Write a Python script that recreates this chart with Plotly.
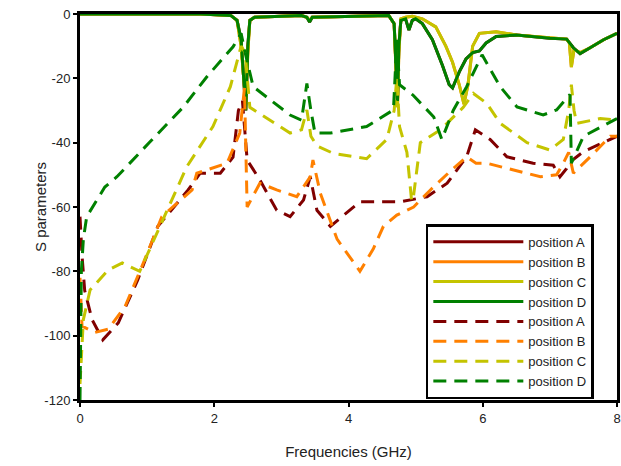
import plotly.graph_objects as go

# ---------------- data ----------------
# Solid curves
solid_D_f = [0, 1.8, 2.25, 2.34, 2.4, 2.44, 2.47, 2.5, 2.53, 2.6, 3.3, 3.38, 3.42, 3.46, 4.6, 4.68, 4.71, 4.73, 4.75, 4.78, 4.85, 4.9, 4.95, 5.0, 5.1, 5.25, 5.4, 5.5, 5.55, 5.65, 5.75, 5.85, 5.95, 6.05, 6.2, 6.5, 7.0, 7.25, 7.35, 7.45, 7.6, 7.8, 8.0]
solid_D_s = [0, 0, -0.5, -2, -8, -20, -30, -10, -2, -1, -0.5, -1, -2.5, -1, -0.5, -3, -15, -27, -10, -2, -1.5, -5, -2, -1.5, -3, -8, -16, -22, -23, -18, -14, -12, -11.5, -9, -7, -6.5, -7.5, -7.8, -10.5, -12.3, -10.5, -8, -6]

solid_C_f = [0, 1.8, 2.25, 2.34, 2.4, 2.44, 2.47, 2.5, 2.53, 2.6, 3.3, 3.38, 3.42, 3.46, 4.6, 4.68, 4.71, 4.73, 4.75, 4.78, 4.85, 4.95, 5.1, 5.3, 5.45, 5.55, 5.65, 5.72, 5.78, 5.85, 5.95, 6.2, 6.5, 7.0, 7.25, 7.29, 7.32, 7.36, 7.45, 7.6, 7.8, 8.0]
solid_C_s = [0, 0, -0.5, -2, -10, -22, -28, -12, -2, -1, -0.5, -1, -2, -1, -0.5, -3, -18, -29, -12, -1.5, -1, -0.7, -1.5, -4, -10, -15, -22, -28, -22, -10, -6, -5.5, -6.5, -7.5, -7.8, -9, -16.5, -11, -12, -10.5, -8, -6]

solid_B_f = solid_C_f
solid_B_s = solid_C_s
solid_A_f = solid_D_f
solid_A_s = solid_D_s

# Dashed curves
dash_A_f = [0, 0.03, 0.07, 0.18, 0.34, 0.57, 0.86, 1.16, 1.61, 1.79, 2.09, 2.28, 2.36, 2.42, 2.49, 2.68, 2.93, 3.13, 3.33, 3.43, 3.53, 3.73, 4.17, 4.77, 5.17, 5.47, 5.76, 5.89, 6.11, 6.36, 6.75, 7.05, 7.15, 7.25, 7.3, 7.5, 8.0]
dash_A_s = [-63, -75, -86, -95, -101.3, -96, -82.7, -66, -54.7, -49.5, -49.5, -44.5, -30, -27, -45.4, -51.6, -61, -63, -57.8, -50.6, -61, -66, -58.4, -58.4, -56.8, -52.6, -44.4, -36, -39, -44.4, -46.4, -47, -50.6, -48, -46, -42.8, -38]

dash_B_f = [0, 0.03, 0.22, 0.42, 0.67, 0.92, 1.22, 1.67, 1.74, 2.19, 2.38, 2.45, 2.49, 2.68, 2.93, 3.23, 3.43, 3.47, 3.58, 3.77, 3.83, 4.17, 4.37, 4.52, 4.72, 4.97, 5.22, 5.51, 5.76, 5.9, 6.06, 6.46, 6.86, 7.1, 7.2, 7.28, 7.35, 7.6, 7.9, 8.0]
dash_B_s = [-82, -97, -99, -98, -91, -78.6, -63, -54.7, -49.5, -46.4, -37, -23, -60, -52.6, -54.7, -56.8, -50.6, -45.4, -55.7, -67, -70, -80, -73, -66, -62.5, -60, -54.7, -49, -44.4, -46.4, -46.4, -48.5, -50.6, -50, -46.4, -43, -49.5, -44.4, -38, -38]

dash_C_f = [0, 0.05, 0.15, 0.42, 0.63, 0.89, 1.17, 1.42, 1.59, 1.98, 2.24, 2.4, 2.46, 2.53, 3.13, 3.3, 3.38, 3.44, 3.53, 3.77, 4.27, 4.57, 4.68, 4.72, 4.76, 4.87, 4.94, 4.96, 5.07, 5.37, 5.71, 5.86, 6.06, 6.26, 6.66, 7.0, 7.2, 7.28, 7.32, 7.36, 7.4, 7.75, 8.0]
dash_C_s = [-115, -95, -85.8, -79.6, -77.4, -80, -67, -55.7, -47.5, -35, -22.6, -10, -12, -29, -37, -36, -29.8, -38, -41, -43.3, -45, -39, -30, -19.5, -35, -43, -58, -58, -40, -36, -29, -24.7, -27.8, -34, -40, -42.3, -39, -30, -22, -30, -34, -32.5, -33]

dash_D_f = [0, 0.02, 0.05, 0.1, 0.37, 0.55, 1.04, 1.54, 1.89, 2.28, 2.4, 2.46, 2.58, 3.13, 3.3, 3.38, 3.44, 3.5, 3.73, 4.27, 4.67, 4.72, 4.76, 4.96, 5.27, 5.39, 5.56, 5.76, 5.99, 6.26, 6.51, 6.9, 7.1, 7.28, 7.3, 7.32, 7.5, 8.0]
dash_D_s = [-120, -80, -70, -63, -53.8, -50.6, -39.8, -28.9, -19.5, -10.2, -6, -12, -22.6, -31.4, -33, -21.6, -30, -37, -37, -35, -29.8, -8, -22, -25.2, -32, -39, -30, -22.6, -12.7, -22.6, -28.9, -31.4, -29.8, -25.7, -25, -46.4, -38, -32.5]

series_names = ["position A", "position B", "position C", "position D"]
colors = ["#800000", "#FF8000", "#C4C400", "#008000"]

solid_sets = [(solid_A_f, solid_A_s), (solid_B_f, solid_B_s), (solid_C_f, solid_C_s), (solid_D_f, solid_D_s)]
dash_sets = [(dash_A_f, dash_A_s), (dash_B_f, dash_B_s), (dash_C_f, dash_C_s), (dash_D_f, dash_D_s)]

x_ticks = [0, 2, 4, 6, 8]
x_tick_labels = ["0", "2", "4", "6", "8"]
y_ticks = [0, -20, -40, -60, -80, -100, -120]
y_tick_labels = ["0", "-20", "-40", "-60", "-80", "-100", "-120"]

# ---------------- figure ----------------
fig = go.Figure()
for name, col, (f, s) in zip(series_names, colors, solid_sets):
    fig.add_trace(go.Scatter(x=f, y=s, mode="lines", name=name,
                             line=dict(color=col, width=3)))
for name, col, (f, s) in zip(series_names, colors, dash_sets):
    fig.add_trace(go.Scatter(x=f, y=s, mode="lines", name=name,
                             line=dict(color=col, width=3, dash="13px,8px")))

font_family = "Arial, Liberation Sans, sans-serif"
fig.update_layout(
    width=621, height=466,
    margin=dict(l=80, r=4, t=14, b=66),
    paper_bgcolor="white", plot_bgcolor="white",
    font=dict(family=font_family, size=13, color="#222"),
    showlegend=True,
    legend=dict(x=0.644, y=0.455, xanchor="left", yanchor="top",
                bgcolor="white", bordercolor="black", borderwidth=2.5,
                font=dict(size=13, color="#222"), tracegroupgap=0,
                itemwidth=90),
    annotations=[dict(text="S parameters", xref="paper", yref="paper",
                      x=-0.0745, y=0.5, xanchor="center", yanchor="middle",
                      textangle=-90, showarrow=False, font=dict(size=15, color="#222"))],
)
fig.update_xaxes(range=[0, 8], tickvals=x_ticks, ticktext=x_tick_labels,
                 showgrid=False, zeroline=False,
                 showline=True, linecolor="black", linewidth=3, mirror=True,
                 ticks="outside", ticklen=4, tickwidth=2, tickcolor="black",
                 layer="below traces", automargin=False, ticklabeloverflow="allow",
                 title=dict(text="Frequencies (GHz)", font=dict(size=15), standoff=22))
fig.update_yaxes(range=[-120, 0], tickvals=y_ticks, ticktext=y_tick_labels,
                 showgrid=False, zeroline=False,
                 showline=True, linecolor="black", linewidth=3, mirror=True,
                 ticks="outside", ticklen=4, tickwidth=2, tickcolor="black",
                 layer="below traces", automargin=False, ticklabeloverflow="allow")

fig.write_html("out.html", config={"displayModeBar": False},
               post_script="document.body.style.margin='0';document.body.style.overflow='hidden';")
